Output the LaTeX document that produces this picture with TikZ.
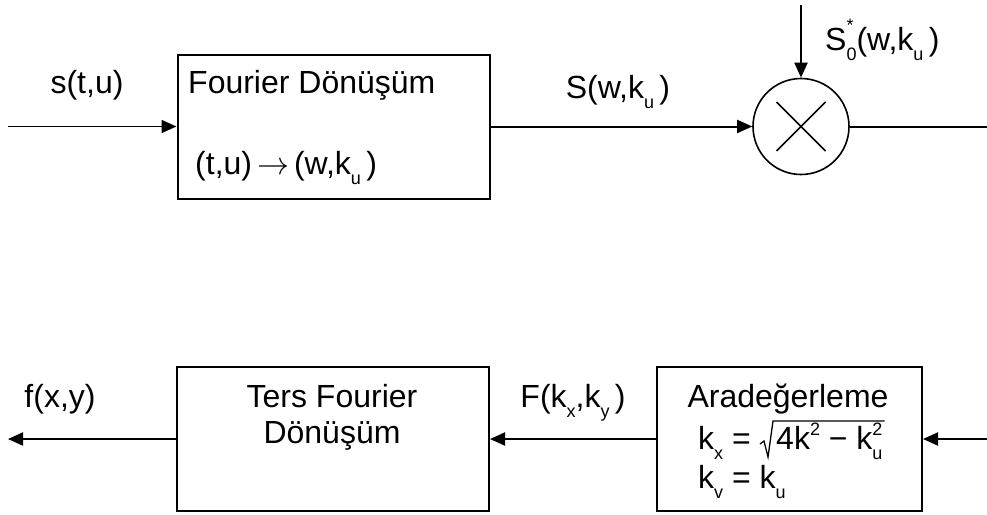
\RequirePackage{fix-cm}
\documentclass[tikz,border=0pt]{standalone}
\usepackage{fontspec}
\setmainfont{Liberation Sans}
\usepackage{tikz}
\usetikzlibrary{positioning,shapes,arrows.meta}

% small lowered / raised indices set in the text font
\newcommand{\lo}[1]{\raisebox{-0.32em}{\fontsize{18}{18}\selectfont #1}}
\newcommand{\hi}[1]{\raisebox{0.42em}{\fontsize{18}{18}\selectfont #1}}

\begin{document}
\begin{tikzpicture}[x=1pt,y=-1pt]
\tikzset{
    block/.style={rectangle, draw=black, line width=2pt, minimum width=312pt, minimum height=144pt, inner sep=0pt},
    mixer/.style={circle, draw=black, line width=1.6pt, minimum size=96pt, inner sep=0pt},
    lbl/.style={font=\fontsize{32}{38}\selectfont, inner sep=0pt, anchor=base},
    arrow/.style={-{Triangle[length=15pt,width=13pt]}, line width=2pt},
    feed/.style={-{Triangle[length=15pt,width=13pt]}, line width=1.5pt, draw=gray!80, color=black}
}
\useasboundingbox (0,0) rectangle (987,514);

% upper chain
\node[block] (fft) at (333.5,126.5) {};
\node[mixer] (mult) at (801,126.5) {};
\draw[line width=1.6pt] (mult.center) ++(-24.5,-24.5) -- ++(49,49);
\draw[line width=1.6pt] (mult.center) ++(-24.5,24.5) -- ++(49,-49);
\coordinate (sin) at (8,126.5);
\coordinate (ref) at (801,5);
\coordinate (sout) at (987,126.5);

\node[lbl, anchor=base west] (fname) at (188,93) {Fourier Dönüşüm};
\node[lbl, anchor=base west] (fmap) at (195,174)
    {(t,u)\hspace{5pt}$\rightarrow$\hspace{5pt}(w,k\lo{u}\,)};
\node[lbl] (sig) at (87,93) {s(t,u)};
\node[lbl] (spec) at (618,98) {S(w,k\lo{u}\,)};
\node[lbl, anchor=base west] (refsig) at (825,50) {S\rlap{\raisebox{0.15em}{\hi{*}}}\lo{0}(w,k\lo{u}\,)};

\draw[feed] (sin) -- (fft.west);
\draw[arrow] (fft.east) -- (mult.west);
\draw[arrow] (ref) -- (mult.north);
\draw[line width=2pt] (mult.east) -- (sout);

% lower chain
\node[block] (ifft) at (333,439) {};
\node[block, minimum width=265pt] (interp) at (789.5,439) {};
\coordinate (kin) at (987,439);
\coordinate (fout) at (8,439);

\node[lbl] (iname) at (332,407) {Ters Fourier};
\node[lbl] (iname2) at (332,443) {Dönüşüm};
\node[lbl] (aname) at (788,407) {Aradeğerleme};
\node[lbl, anchor=base west] (kx) at (698,449) {k\lo{x} =};
\node[lbl, anchor=base west] (root) at (776,449) {4k\hi{2} − k\rlap{\lo{u}}\hi{2}};
% radical sign over the root
\draw[line width=1.3pt] ([shift={(-16,-5)}]root.base west) -- ++(4,-3) -- ++(4,16)
    -- ++(5,-36) -- ([shift={(2,-28)}]root.base east);
\node[lbl, anchor=base west] (ky) at (698,488) {k\lo{v} = k\lo{u}};
\node[lbl] (img) at (60,407) {f(x,y)};
\node[lbl] (kspec) at (573,407) {F(k\lo{x},k\lo{y}\,)};

\draw[arrow] (kin) -- (interp.east);
\draw[arrow] (interp.west) -- (ifft.east);
\draw[arrow] (ifft.west) -- (fout);
\end{tikzpicture}
\end{document}
